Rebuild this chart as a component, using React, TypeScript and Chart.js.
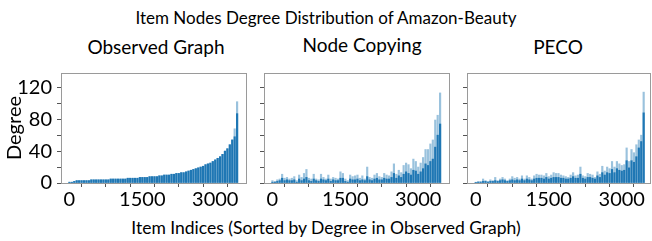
import React, { useEffect, useRef } from "react";
import { Chart, registerables } from "chart.js";
Chart.register(...registerables);

// Item index of each bin (items sorted by degree in the observed graph)
const ITEM_INDEX = [
  0, 50, 100, 150, 200, 250, 300, 350, 400, 450,
  500, 550, 600, 650, 700, 750, 800, 850, 900, 950,
  1000, 1050, 1100, 1150, 1200, 1250, 1300, 1350, 1400, 1450,
  1500, 1550, 1600, 1650, 1700, 1750, 1800, 1850, 1900, 1950,
  2000, 2050, 2100, 2150, 2200, 2250, 2300, 2350, 2400, 2450,
  2500, 2550, 2600, 2650, 2700, 2750, 2800, 2850, 2900, 2950,
  3000, 3050, 3100, 3150, 3200, 3250, 3300, 3350, 3400, 3450,
];

const OBSERVED_CORE = [
  1, 1, 2, 3, 3, 3, 3, 3, 3, 4,
  4, 4, 4, 4, 4, 4, 4, 5, 5, 5,
  5, 5, 5, 5, 6, 6, 6, 6, 6, 7,
  7, 7, 7, 8, 8, 8, 8, 9, 9, 10,
  10, 10, 11, 11, 12, 12, 13, 13, 14, 15,
  16, 17, 18, 19, 20, 21, 23, 24, 25, 27,
  29, 31, 33, 36, 40, 43, 48, 54, 58, 87,
];
const OBSERVED_PEAK = [
  1, 1, 2, 3, 3, 3, 3, 3, 3, 4,
  4, 4, 4, 4, 4, 4, 4, 5, 5, 5,
  5, 5, 5, 5, 6, 6, 6, 6, 6, 7,
  7, 7, 7, 8, 8, 8, 8, 9, 9, 10,
  10, 10, 11, 11, 12, 12, 13, 13, 14, 15,
  16, 17, 18, 19, 20, 21, 23, 24, 25, 27,
  29, 31, 33, 36, 40, 43, 48, 54, 68, 102,
];

const NODE_COPYING_CORE = [
  1, 1, 2, 3, 6, 3, 4, 3, 3, 4,
  1, 5, 3, 5, 7, 3, 2, 5, 3, 2,
  5, 4, 3, 5, 2, 4, 3, 3, 6, 6,
  2, 1, 5, 4, 4, 5, 3, 4, 3, 8,
  4, 3, 5, 6, 4, 4, 6, 5, 5, 7,
  12, 6, 9, 7, 11, 14, 12, 10, 16, 15,
  11, 14, 18, 24, 22, 27, 30, 45, 60, 74,
];
const NODE_COPYING_PEAK = [
  3, 2, 4, 5, 11, 6, 7, 5, 6, 8,
  3, 10, 7, 12, 17, 6, 5, 11, 5, 4,
  11, 7, 5, 10, 5, 7, 6, 5, 14, 12,
  5, 3, 10, 8, 9, 10, 6, 9, 5, 20,
  7, 6, 10, 12, 8, 7, 12, 10, 9, 14,
  24, 11, 16, 13, 22, 25, 23, 18, 30, 27,
  20, 25, 32, 42, 42, 49, 54, 79, 85, 113,
];

const PECO_CORE = [
  0.5, 1, 1, 2, 2, 1, 2, 2, 3, 2,
  3, 4, 3, 2, 3, 4, 3, 4, 3, 5,
  3, 5, 4, 3, 5, 6, 6, 6, 5, 7,
  5, 6, 7, 7, 7, 6, 6, 5, 5, 6,
  8, 6, 6, 11, 6, 5, 7, 7, 6, 5,
  9, 7, 13, 10, 13, 12, 17, 13, 18, 16,
  15, 16, 28, 19, 28, 26, 33, 44, 52, 88,
];
const PECO_PEAK = [
  1, 2, 2, 5, 3, 2, 4, 3, 7, 3,
  5, 7, 5, 3, 5, 8, 6, 7, 5, 9,
  5, 9, 7, 5, 9, 11, 10, 10, 9, 12,
  8, 10, 13, 12, 12, 10, 9, 8, 7, 10,
  13, 9, 10, 20, 9, 8, 12, 11, 10, 7,
  14, 11, 21, 15, 20, 18, 27, 20, 27, 24,
  22, 23, 44, 27, 42, 38, 48, 54, 60, 114,
];

const X_TICKS = [0, 500, 1000, 1500, 2000, 2500, 3000, 3500];
const X_TICKS_LABELED = [0, 1500, 3000];
const Y_TICKS = [0, 20, 40, 60, 80, 100, 120];
const Y_TICKS_LABELED = [0, 40, 80, 120];

const DARK = "#1f77b4";
const LIGHT = "rgba(31,119,180,0.45)";
const FONT = "Lato, 'Open Sans', sans-serif";

const framePlugin = {
  id: "frame",
  afterDraw(chart: any) {
    const { ctx, chartArea: a } = chart;
    ctx.save();
    ctx.strokeStyle = "#9a9a9a";
    ctx.lineWidth = 1;
    ctx.strokeRect(Math.round(a.left) + 0.5, Math.round(a.top) + 0.5, Math.round(a.right - a.left), Math.round(a.bottom - a.top));
    ctx.restore();
  },
};

type PanelProps = {
  left: number;
  top: number;
  width: number;
  height: number;
  yAxisWidth: number;
  rightPad: number;
  xMin: number;
  xMax: number;
  core: number[];
  peak: number[];
  showY: boolean;
};

function Panel(p: PanelProps) {
  const ref = useRef<HTMLCanvasElement>(null);
  useEffect(() => {
    const chart = new Chart(ref.current as HTMLCanvasElement, {
      type: "bar",
      data: {
        datasets: [
          {
            data: ITEM_INDEX.map((x, i) => ({ x, y: p.core[i] })),
            backgroundColor: DARK,
            barThickness: 1.5,
            grouped: false,
          } as any,
          {
            data: ITEM_INDEX.map((x, i) => ({ x, y: p.peak[i] })),
            backgroundColor: LIGHT,
            barThickness: 1.5,
            grouped: false,
          } as any,
        ],
      },
      options: {
        animation: false,
        responsive: false,
        events: [],
        layout: { padding: { top: 5, right: p.rightPad, bottom: 0, left: 0 } },
        plugins: { legend: { display: false }, tooltip: { enabled: false } },
        scales: {
          x: {
            type: "linear",
            min: p.xMin,
            max: p.xMax,
            offset: false,
            afterBuildTicks: (s: any) => {
              s.ticks = X_TICKS.map((v) => ({ value: v }));
            },
            afterFit: (s: any) => {
              s.height = 33;
            },
            ticks: {
              autoSkip: false,
              maxRotation: 0,
              padding: 1,
              color: "#000",
              font: { family: FONT, size: 20 },
              callback: (v: any) => (X_TICKS_LABELED.includes(Number(v)) ? String(v) : ""),
            },
            grid: { drawOnChartArea: false, drawTicks: true, tickLength: 4, tickColor: "#555" },
            border: { display: false },
          },
          y: {
            min: 0,
            max: 138,
            afterBuildTicks: (s: any) => {
              s.ticks = Y_TICKS.map((v) => ({ value: v }));
            },
            afterFit: (s: any) => {
              s.width = p.yAxisWidth;
            },
            ticks: {
              autoSkip: false,
              padding: 5,
              color: "#000",
              font: { family: FONT, size: 20 },
              callback: (v: any) => (p.showY && Y_TICKS_LABELED.includes(Number(v)) ? String(v) : ""),
            },
            title: {
              display: p.showY,
              text: "Degree",
              color: "#000",
              font: { family: FONT, size: 20 },
              padding: { top: 3, bottom: 3 },
            },
            grid: { drawOnChartArea: false, drawTicks: true, tickLength: 4, tickColor: "#555" },
            border: { display: false },
          },
        },
      } as any,
      plugins: [framePlugin],
    });
    return () => chart.destroy();
  }, []);
  return (
    <canvas
      ref={ref}
      width={p.width}
      height={p.height}
      style={{ position: "absolute", left: p.left, top: p.top, width: p.width, height: p.height }}
    />
  );
}

function Label({ x, y, text, size }: { x: number; y: number; text: string; size: number }) {
  return (
    <div
      style={{
        position: "absolute",
        left: x,
        top: y,
        transform: "translate(-50%, -50%)",
        whiteSpace: "nowrap",
        fontFamily: FONT,
        fontSize: size,
        color: "#000",
        lineHeight: 1,
      }}
    >
      {text}
    </div>
  );
}

export default function App() {
  useEffect(() => {
    document.body.style.margin = "0";
  }, []);
  return (
    <div style={{ position: "absolute", left: 0, top: 0, width: 652, height: 241, background: "#fff", overflow: "hidden" }}>
      <Label x={326} y={17} size={17} text="Item Nodes Degree Distribution of Amazon-Beauty" />
      <Label x={156} y={46} size={19} text="Observed Graph" />
      <Label x={362} y={44} size={19} text="Node Copying" />
      <Label x={558} y={46} size={19} text="PECO" />
      <Panel left={0} top={56} width={250} height={160} yAxisWidth={61} rightPad={4} xMin={-173} xMax={3633} core={OBSERVED_CORE} peak={OBSERVED_PEAK} showY={true} />
      <Panel left={252} top={56} width={200} height={160} yAxisWidth={12} rightPad={3} xMin={-173} xMax={3633} core={NODE_COPYING_CORE} peak={NODE_COPYING_PEAK} showY={false} />
      <Panel left={455} top={56} width={197} height={160} yAxisWidth={12} rightPad={2} xMin={-180} xMax={3580} core={PECO_CORE} peak={PECO_PEAK} showY={false} />
      <Label x={326} y={228} size={17.5} text="Item Indices (Sorted by Degree in Observed Graph)" />
    </div>
  );
}
